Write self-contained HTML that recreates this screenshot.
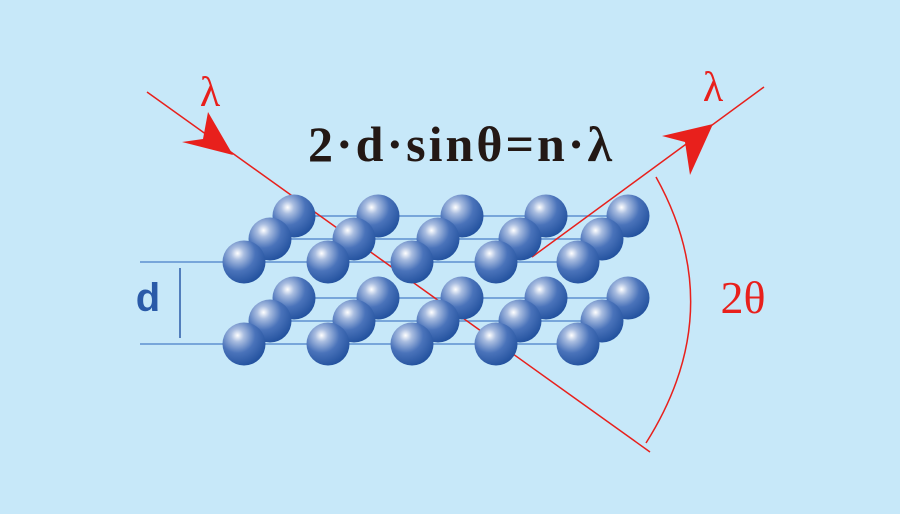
<!DOCTYPE html>
<html><head><meta charset="utf-8"><style>
html,body{margin:0;padding:0;background:#c7e8f9;}
svg{display:block}
</style></head><body>
<svg width="900" height="514" viewBox="0 0 900 514" xmlns="http://www.w3.org/2000/svg">
<defs>
<radialGradient id="g" cx="0.35" cy="0.3" r="0.75">
<stop offset="0" stop-color="#ffffff"/>
<stop offset="0.2" stop-color="#a9bde0"/>
<stop offset="0.55" stop-color="#4a73ba"/>
<stop offset="1" stop-color="#21509d"/>
</radialGradient>
</defs>
<rect width="900" height="514" fill="#c7e8f9"/>
<g stroke="#5f8fcf" stroke-width="1.5">
<line x1="294" y1="216" x2="630" y2="216"/>
<line x1="270" y1="239" x2="602" y2="239"/>
<line x1="140" y1="262" x2="578" y2="262"/>
<line x1="294" y1="298" x2="630" y2="298"/>
<line x1="270" y1="321" x2="602" y2="321"/>
<line x1="140" y1="344" x2="578" y2="344"/>
</g>
<line x1="180" y1="268" x2="180" y2="338" stroke="#2a5aa8" stroke-width="1.5"/>
<text x="148" y="311" font-family="Liberation Sans, sans-serif" font-weight="bold" font-size="40" fill="#2a5aa8" text-anchor="middle">d</text>
<line x1="147" y1="92" x2="650" y2="452" stroke="#e8201c" stroke-width="1.5"/>
<line x1="532" y1="257" x2="764" y2="87" stroke="#e8201c" stroke-width="1.5"/>
<g fill="url(#g)">
<circle cx="294" cy="216" r="21.5"/><circle cx="378" cy="216" r="21.5"/><circle cx="462" cy="216" r="21.5"/><circle cx="546" cy="216" r="21.5"/><circle cx="628" cy="216" r="21.5"/>
<circle cx="270" cy="239" r="21.5"/><circle cx="354" cy="239" r="21.5"/><circle cx="438" cy="239" r="21.5"/><circle cx="520" cy="239" r="21.5"/><circle cx="602" cy="239" r="21.5"/>
<circle cx="244" cy="262" r="21.5"/><circle cx="328" cy="262" r="21.5"/><circle cx="412" cy="262" r="21.5"/><circle cx="496" cy="262" r="21.5"/><circle cx="578" cy="262" r="21.5"/>
<circle cx="294" cy="298" r="21.5"/><circle cx="378" cy="298" r="21.5"/><circle cx="462" cy="298" r="21.5"/><circle cx="546" cy="298" r="21.5"/><circle cx="628" cy="298" r="21.5"/>
<circle cx="270" cy="321" r="21.5"/><circle cx="354" cy="321" r="21.5"/><circle cx="438" cy="321" r="21.5"/><circle cx="520" cy="321" r="21.5"/><circle cx="602" cy="321" r="21.5"/>
<circle cx="244" cy="344" r="21.5"/><circle cx="328" cy="344" r="21.5"/><circle cx="412" cy="344" r="21.5"/><circle cx="496" cy="344" r="21.5"/><circle cx="578" cy="344" r="21.5"/>
</g>
<path d="M233 155 L182 142 L203 139 L208 112 Z" fill="#e8201c"/>
<path d="M713 124 L662 136 L685 142 L690 175 Z" fill="#e8201c"/>
<path d="M656 177 Q730 310 646 443" fill="none" stroke="#e8201c" stroke-width="1.5"/>
<text x="210" y="106" font-family="Liberation Serif, serif" font-size="42" fill="#e8201c" text-anchor="middle">λ</text>
<text x="713" y="101" font-family="Liberation Serif, serif" font-size="42" fill="#e8201c" text-anchor="middle">λ</text>
<text x="743" y="313" font-family="Liberation Serif, serif" font-size="46" fill="#e8201c" text-anchor="middle">2θ</text>
<text x="460" y="161" font-family="Liberation Serif, serif" font-weight="bold" font-size="50" fill="#231815" text-anchor="middle" textLength="304" lengthAdjust="spacing">2·d·sinθ=n·λ</text>
</svg>
</body></html>
